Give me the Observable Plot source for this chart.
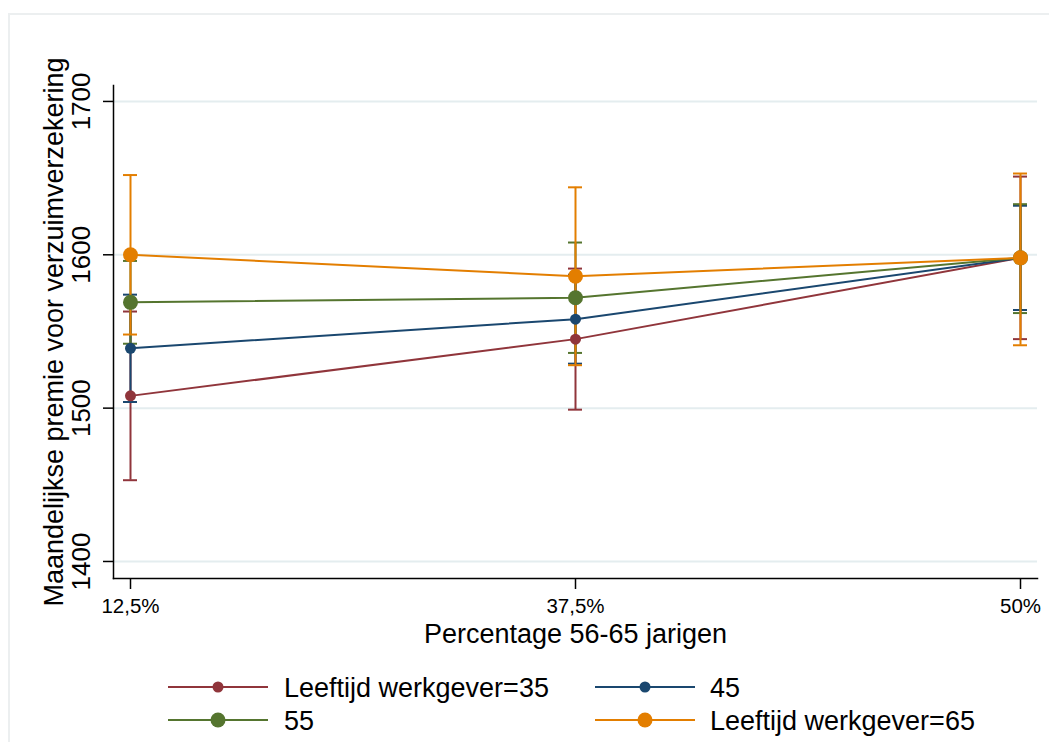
<!DOCTYPE html>
<html><head><meta charset="utf-8">
<script src="https://cdn.jsdelivr.net/npm/d3@7"></script>
<script src="https://cdn.jsdelivr.net/npm/@observablehq/plot@0.6"></script>
<style>
html,body{margin:0;padding:0;background:#fff;overflow:hidden;width:1049px;height:742px;}
#wrap{position:relative;width:1049px;height:742px;font-family:"Liberation Sans",Arial,sans-serif;color:#000;}
#border{position:absolute;left:8px;top:13px;width:1100px;height:800px;border:2px solid #eceff0;box-sizing:border-box;}
#chart{position:absolute;left:0;top:0;}
#legend{position:absolute;left:0;top:660px;width:1049px;height:82px;}
.sym{position:absolute;width:100px;height:30px;}
.lab{position:absolute;font-size:27px;line-height:30px;height:30px;white-space:nowrap;}
</style></head>
<body><div id="wrap"><div id="border"></div><div id="chart"></div><div id="legend"></div></div>
<script>
// Data
const categories = ["12,5%", "37,5%", "50%"];
const series = ["35", "45", "55", "65"];
const legendLabels = ["Leeftijd werkgever=35", "45", "55", "Leeftijd werkgever=65"];
const yTicks = [1400, 1500, 1600, 1700];

const mean35 = [1508, 1545, 1598];
const lo35   = [1453, 1499, 1545];
const hi35   = [1563, 1591, 1651];

const mean45 = [1539, 1558, 1598];
const lo45   = [1504, 1529, 1564];
const hi45   = [1574, 1587, 1632];

const mean55 = [1569, 1572, 1598];
const lo55   = [1542, 1536, 1562];
const hi55   = [1596, 1608, 1633];

const mean65 = [1600, 1586, 1598];
const lo65   = [1548, 1528, 1541];
const hi65   = [1652, 1644, 1653];

const xTitle = "Percentage 56-65 jarigen";
const yTitle = "Maandelijkse premie voor verzuimverzekering";

// Styles
const colors = ["#90353b", "#1a476f", "#55752f", "#e37e00"];
const radii = [5.5, 5.5, 7.5, 7.5];

const means = [mean35, mean45, mean55, mean65];
const lows = [lo35, lo45, lo55, lo65];
const highs = [hi35, hi45, hi55, hi65];
const rows = [];
series.forEach((s, i) => categories.forEach((c, j) =>
  rows.push({cat: c, series: s, mean: means[i][j], lo: lows[i][j], hi: highs[i][j]})));

const bars = [], lines = [], dots = [];
series.forEach((s, i) => {
  const d = rows.filter(r => r.series === s);
  bars.push(Plot.ruleX(d, {x: "cat", y1: "lo", y2: "hi", stroke: colors[i], strokeWidth: 2}));
  bars.push(Plot.ruleY(d, {x1: "cat", x2: "cat", y: "lo", stroke: colors[i], strokeWidth: 2, insetLeft: -7, insetRight: -7}));
  bars.push(Plot.ruleY(d, {x1: "cat", x2: "cat", y: "hi", stroke: colors[i], strokeWidth: 2, insetLeft: -7, insetRight: -7}));
  lines.push(Plot.line(d, {x: "cat", y: "mean", stroke: colors[i], strokeWidth: 2}));
  dots.push(Plot.dot(d, {x: "cat", y: "mean", r: radii[i], fill: colors[i], stroke: "none"}));
});

const plot = Plot.plot({
  width: 1049,
  height: 660,
  marginLeft: 113,
  marginRight: 12,
  marginTop: 85,
  marginBottom: 82,
  style: {fontFamily: "'Liberation Sans', Arial, sans-serif", color: "#000", background: "transparent", overflow: "visible"},
  x: {type: "point", domain: categories, padding: 17 / 445},
  y: {domain: [1388.9, 1710.4]},
  marks: [
    Plot.gridY(yTicks, {stroke: "#e4edef", strokeOpacity: 1, strokeWidth: 2}),
    Plot.frame({anchor: "left", stroke: "#000", strokeWidth: 1.5}),
    Plot.frame({anchor: "bottom", stroke: "#000", strokeWidth: 1.5}),
    Plot.axisY(yTicks, {tickSize: 10, tickPadding: 14, tickRotate: -90, fontSize: 26, tickFormat: d => String(d), label: null, strokeWidth: 1.5}),
    Plot.axisX({tickSize: 11, tickPadding: 9, fontSize: 20.5, label: null, strokeWidth: 1.5}),
    Plot.text([yTitle], {text: d => d, frameAnchor: "left", rotate: -90, dx: -51, fontSize: 27, lineAnchor: "bottom", textAnchor: "middle", fill: "#000"}),
    Plot.text([xTitle], {text: d => d, frameAnchor: "bottom", dy: 64, fontSize: 27, lineAnchor: "bottom", fill: "#000"}),
    ...bars,
    ...lines,
    ...dots
  ]
});
document.getElementById("chart").appendChild(plot);

// Legend (HTML below the SVG)
const legend = document.getElementById("legend");
const legPos = [[168, 284, 12], [595, 710, 12], [168, 284, 45], [595, 710, 45]];
series.forEach((s, i) => {
  const [sx, tx, top] = legPos[i];
  const sym = document.createElement("div");
  sym.className = "sym";
  sym.style.left = sx + "px";
  sym.style.top = top + "px";
  sym.innerHTML = `<svg width="100" height="30"><line x1="0" x2="100" y1="15" y2="15" stroke="${colors[i]}" stroke-width="2"/><circle cx="50" cy="15" r="${radii[i]}" fill="${colors[i]}"/></svg>`;
  legend.appendChild(sym);
  const lab = document.createElement("div");
  lab.className = "lab";
  lab.style.left = tx + "px";
  lab.style.top = (top + 1) + "px";
  lab.textContent = legendLabels[i];
  legend.appendChild(lab);
});
</script>
</body></html>
